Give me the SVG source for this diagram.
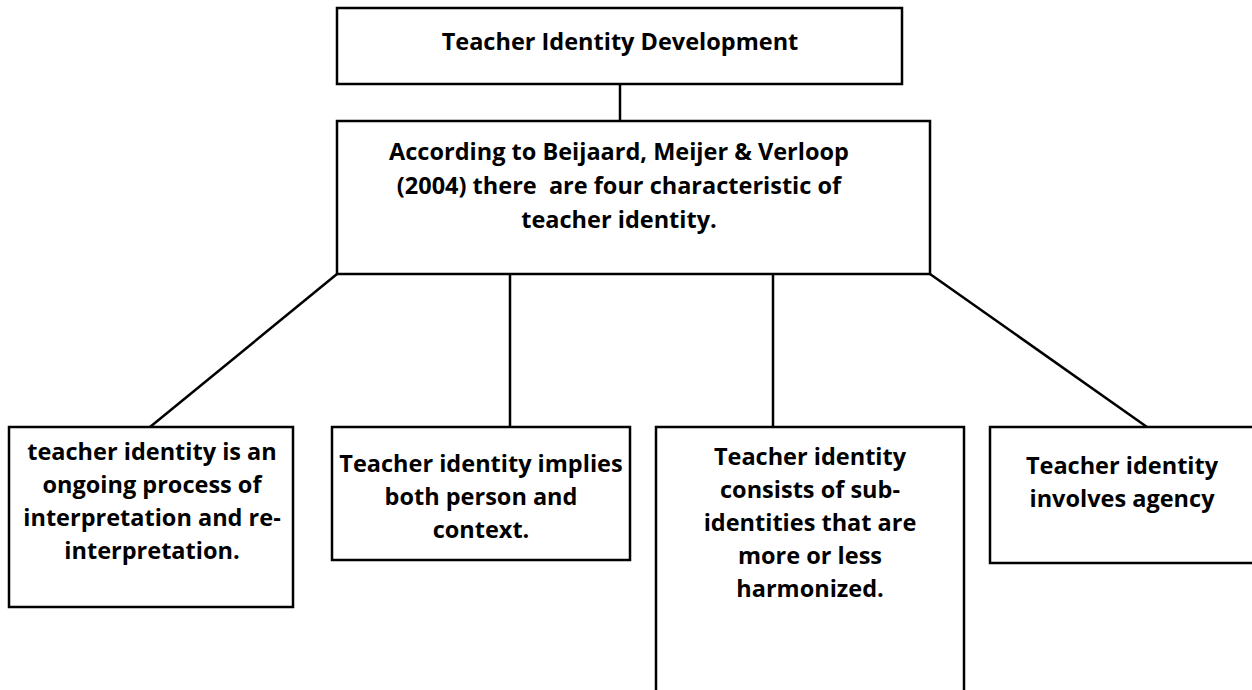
<svg xmlns="http://www.w3.org/2000/svg" width="1252" height="690" viewBox="0 0 1252 690">
<style>
.box{fill:#fff;stroke:#000;stroke-width:2.5}
.t{font-family:"Open Sans","Liberation Sans",sans-serif;font-weight:700;font-size:23.5px;fill:#000;text-anchor:middle}
.c{stroke:#000;stroke-width:2.5;fill:none}
</style>
<rect width="1252" height="690" fill="#fff"/>
<g id="connectors">
<line class="c" x1="620" y1="84" x2="620" y2="121"/>
<line class="c" x1="337" y1="274" x2="150" y2="427"/>
<line class="c" x1="510" y1="274" x2="510" y2="427"/>
<line class="c" x1="773" y1="274" x2="773" y2="427"/>
<line class="c" x1="930" y1="274" x2="1147" y2="427"/>
</g>
<g id="top">
<rect class="box" x="337" y="8" width="565" height="76"/>
<text class="t" x="620" y="50">Teacher Identity Development</text>
</g>
<g id="middle">
<rect class="box" x="337" y="121" width="593" height="153"/>
<text class="t" x="619" y="160">According to Beijaard, Meijer &amp; Verloop</text>
<text class="t" x="619" y="194" xml:space="preserve">(2004) there  are four characteristic of</text>
<text class="t" x="619" y="228">teacher identity.</text>
</g>
<g id="b1">
<rect class="box" x="9" y="427" width="284" height="180"/>
<text class="t" x="152" y="460">teacher identity is an</text>
<text class="t" x="152" y="493">ongoing process of</text>
<text class="t" x="152" y="526">interpretation and re-</text>
<text class="t" x="152" y="559">interpretation.</text>
</g>
<g id="b2">
<rect class="box" x="332" y="427" width="298" height="133"/>
<text class="t" x="481" y="472">Teacher identity implies</text>
<text class="t" x="481" y="505">both person and</text>
<text class="t" x="481" y="538">context.</text>
</g>
<g id="b3">
<rect class="box" x="656" y="427" width="308" height="280"/>
<text class="t" x="810" y="465">Teacher identity</text>
<text class="t" x="810" y="498">consists of sub-</text>
<text class="t" x="810" y="531">identities that are</text>
<text class="t" x="810" y="564">more or less</text>
<text class="t" x="810" y="597">harmonized.</text>
</g>
<g id="b4">
<rect class="box" x="990" y="427" width="280" height="136"/>
<text class="t" x="1122" y="474">Teacher identity</text>
<text class="t" x="1122" y="507">involves agency</text>
</g>
</svg>
